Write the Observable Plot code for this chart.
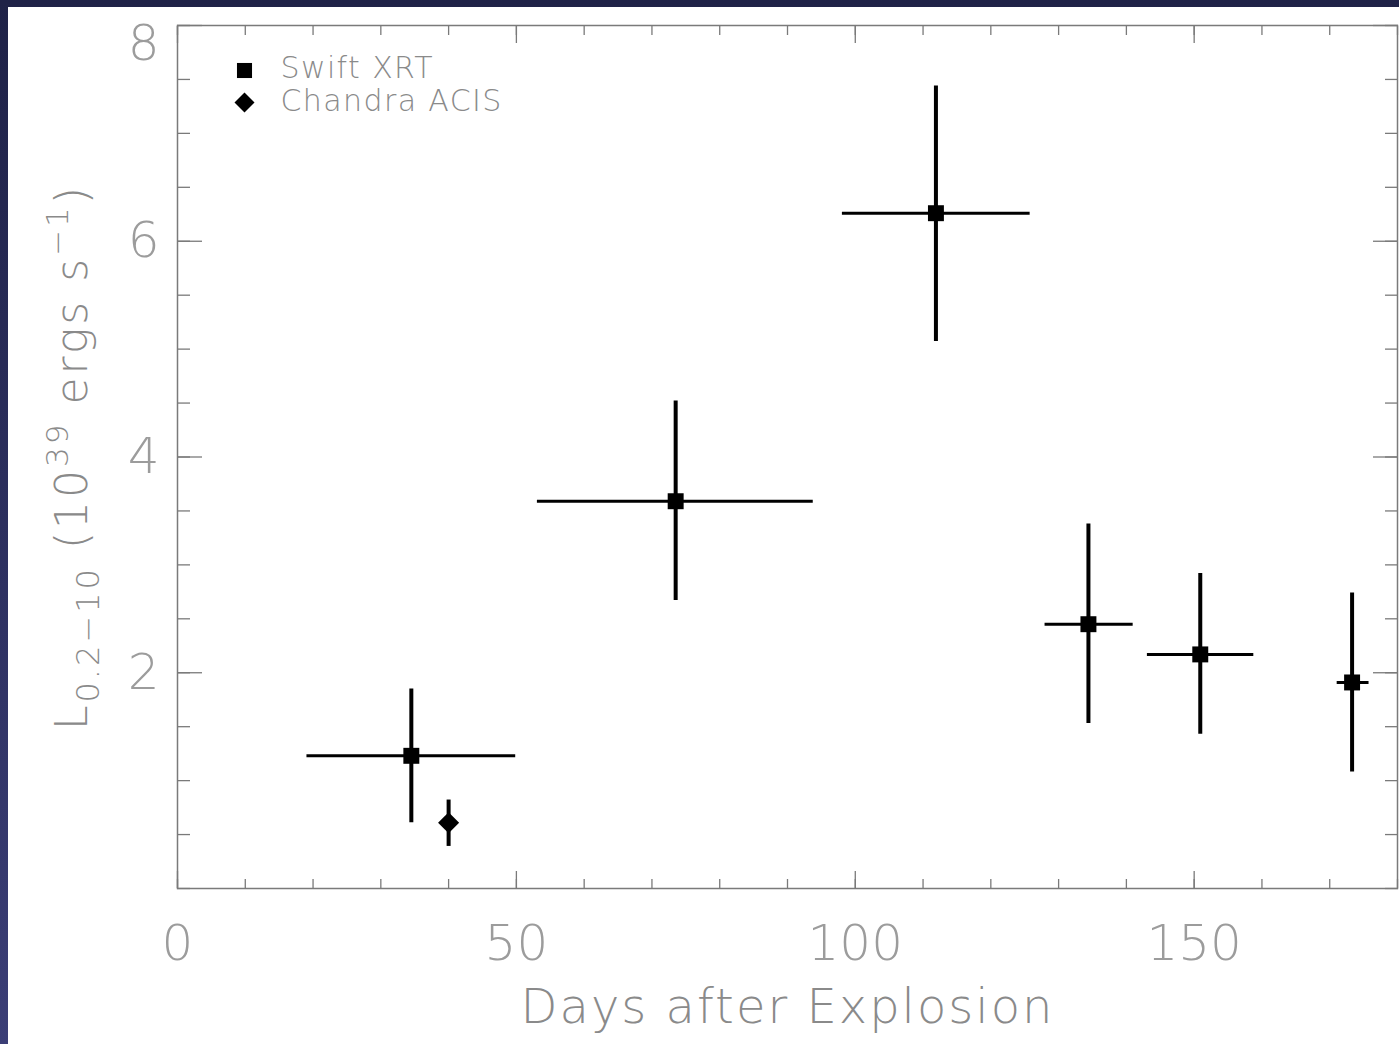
<!DOCTYPE html>
<html>
<head>
<meta charset="utf-8">
<script src="https://cdn.jsdelivr.net/npm/d3@7"></script>
<script src="https://cdn.jsdelivr.net/npm/@observablehq/plot@0.6"></script>
<style>
  html, body { margin: 0; padding: 0; width: 1399px; height: 1044px; overflow: hidden; }
  body { background: linear-gradient(180deg, #1f2247 0%, #2c2f5e 50%, #3b3e76 100%); position: relative; }
  #panel { position: absolute; left: 8px; top: 7px; width: 1391px; height: 1037px; background: #fff; }
  #chart { position: absolute; left: 0; top: 0; }
  #chart svg { background: transparent; font-family: "DejaVu Sans", "Open Sans", sans-serif; font-weight: 200; }
</style>
</head>
<body>
<div id="panel"></div>
<div id="chart"></div>
<script>
// ---- data ----
const swiftDays   = [34.5, 73.5, 111.9, 134.4, 150.9, 173.3];
const swiftDayLo  = [19.1, 53.1, 98.1, 128.0, 143.1, 171.1];
const swiftDayHi  = [49.9, 93.8, 125.8, 141.0, 158.8, 175.8];
const swiftLum    = [1.23, 3.59, 6.26, 2.45, 2.17, 1.91];
const swiftLumLo  = [0.61, 2.67, 5.07, 1.53, 1.43, 1.08];
const swiftLumHi  = [1.85, 4.52, 7.44, 3.38, 2.92, 2.74];

const chandraDays  = [40.0];
const chandraLum   = [0.61];
const chandraLumLo = [0.39];
const chandraLumHi = [0.82];

const xMajorTicks = [0, 50, 100, 150];
const xMinorTicks = d3.range(0, 181, 10);
const yMajorTicks = [2, 4, 6];
const yTopTick    = [8];
const yMinorTicks = d3.range(0, 8.01, 0.5);

const legendLabels = ["Swift XRT", "Chandra ACIS"];
const xTitle = "Days after Explosion";

// ---- tables ----
const swift = swiftDays.map((d, i) => ({
  x: d, x1: swiftDayLo[i], x2: swiftDayHi[i],
  y: swiftLum[i], y1: swiftLumLo[i], y2: swiftLumHi[i]
}));
const chandra = chandraDays.map((d, i) => ({
  x: d, y: chandraLum[i], y1: chandraLumLo[i], y2: chandraLumHi[i]
}));

const axisGray = "#7a7a7a";
const labelGray = "#9c9c9c";
const titleGray = "#8a8a8a";
const intFmt = d3.format("d");

const tickAxis = (axisFn, ticks, anchor, size) =>
  axisFn(ticks, { anchor, tickSize: -size, fill: "none", label: null, stroke: axisGray, strokeWidth: 1.3 });

const chart = Plot.plot({
  width: 1399,
  height: 1044,
  marginLeft: 177,
  marginRight: 2,
  marginTop: 25,
  marginBottom: 156,
  x: { domain: [0, 180] },
  y: { domain: [0, 8] },
  marks: [
    // inward ticks on all four sides
    tickAxis(Plot.axisX, xMinorTicks, "bottom", 9),
    tickAxis(Plot.axisX, xMajorTicks, "bottom", 17),
    tickAxis(Plot.axisX, xMinorTicks, "top", 9),
    tickAxis(Plot.axisX, xMajorTicks, "top", 17),
    tickAxis(Plot.axisY, yMinorTicks, "left", 13),
    tickAxis(Plot.axisY, [...yMajorTicks, ...yTopTick], "left", 25),
    tickAxis(Plot.axisY, yMinorTicks, "right", 13),
    tickAxis(Plot.axisY, [...yMajorTicks, ...yTopTick], "right", 25),
    // tick labels
    Plot.axisX(xMajorTicks, { anchor: "bottom", tickSize: 0, tickPadding: 36, fontSize: 50, fill: labelGray, label: null, tickFormat: intFmt }),
    Plot.axisY(yMajorTicks, { anchor: "left", tickSize: 0, tickPadding: 18, fontSize: 50, fill: labelGray, label: null, tickFormat: intFmt }),
    Plot.axisY(yTopTick, { anchor: "left", tickSize: 0, tickPadding: 18, dy: 18, fontSize: 50, fill: labelGray, label: null, tickFormat: intFmt }),
    Plot.frame({ stroke: axisGray, strokeWidth: 1.5 }),
    // error bars
    Plot.ruleY(swift, { x1: "x1", x2: "x2", y: "y", stroke: "#000", strokeWidth: 3 }),
    Plot.ruleX(swift, { x: "x", y1: "y1", y2: "y2", stroke: "#000", strokeWidth: 4 }),
    Plot.ruleX(chandra, { x: "x", y1: "y1", y2: "y2", stroke: "#000", strokeWidth: 4 }),
    Plot.dot(swift, { x: "x", y: "y", symbol: "square", r: 9, fill: "#000", stroke: null }),
    Plot.dot(chandra, { x: "x", y: "y", symbol: "diamond2", r: 9.5, fill: "#000", stroke: null }),
    // legend
    Plot.dot([legendLabels[0]], { frameAnchor: "top-left", dx: 67, dy: 45, symbol: "square", r: 8.5, fill: "#000", stroke: null }),
    Plot.dot([legendLabels[1]], { frameAnchor: "top-left", dx: 67, dy: 77, symbol: "diamond2", r: 9, fill: "#000", stroke: null }),
    Plot.text([legendLabels[0]], { text: d => d, frameAnchor: "top-left", dx: 103, dy: 43, textAnchor: "start", lineAnchor: "middle", fontSize: 30, fill: titleGray }),
    Plot.text([legendLabels[1]], { text: d => d, frameAnchor: "top-left", dx: 103, dy: 76, textAnchor: "start", lineAnchor: "middle", fontSize: 30, fill: titleGray }),
    // x title
    Plot.text([xTitle], { text: d => d, frameAnchor: "bottom", dy: 134, fontSize: 48, fill: titleGray })
  ]
});

document.getElementById("chart").appendChild(chart);

// letter spacing for the x title and legend
const svg = d3.select(chart);
svg.selectAll("text").filter(function () { return this.textContent === xTitle; })
  .attr("letter-spacing", "2px");
svg.selectAll("text").filter(function () { return legendLabels.includes(this.textContent); })
  .attr("letter-spacing", "1.4px");

// y title with sub/superscripts
const yt = svg.append("text")
  .attr("transform", "translate(87,457) rotate(-90)")
  .attr("text-anchor", "middle")
  .attr("fill", titleGray)
  .attr("font-size", 44)
  .attr("letter-spacing", "3px");
yt.append("tspan").text("L");
yt.append("tspan").attr("font-size", 32).attr("dy", 12).text("0.2\u221210");
yt.append("tspan").attr("dy", -12).text(" (10");
yt.append("tspan").attr("font-size", 31).attr("dy", -19).text("39");
yt.append("tspan").attr("dy", 19).text(" ergs s");
yt.append("tspan").attr("font-size", 31).attr("dy", -19).text("\u22121");
yt.append("tspan").attr("dy", 19).text(")");
</script>
</body>
</html>
